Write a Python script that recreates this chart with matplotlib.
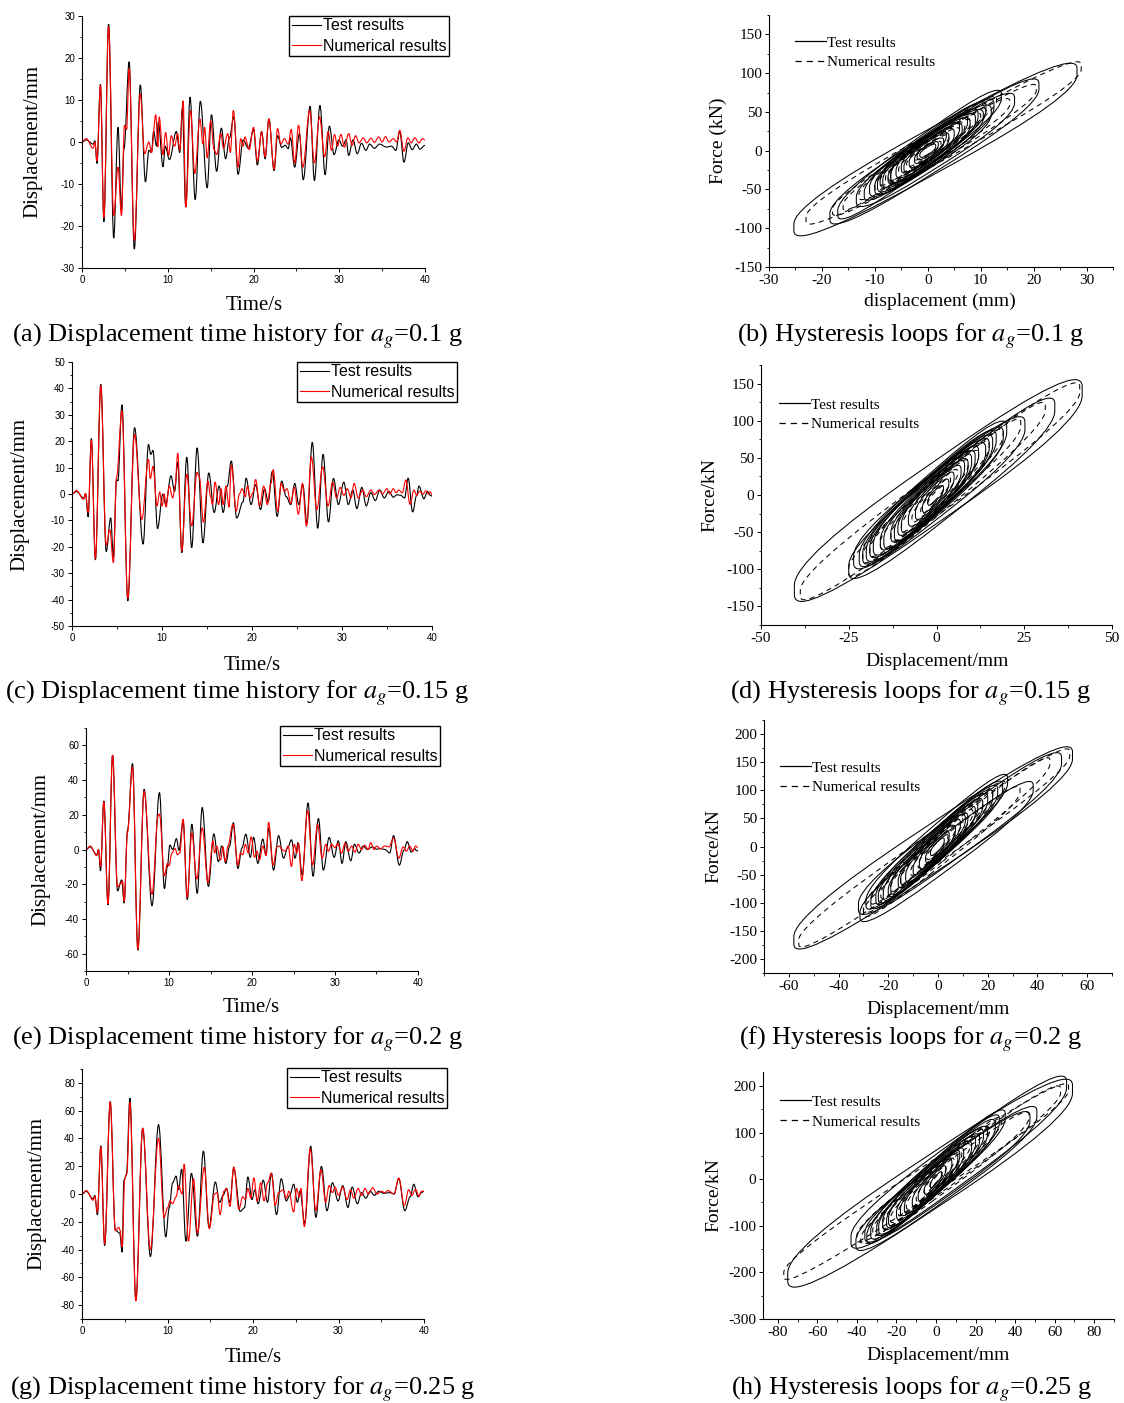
import matplotlib
matplotlib.use('Agg')
import matplotlib.pyplot as plt
from matplotlib.patches import FancyBboxPatch, PathPatch
from matplotlib.path import Path
from matplotlib.transforms import Affine2D
from matplotlib.ticker import MultipleLocator

# ---- displacement time histories: (time s, displacement mm) at the peaks/troughs ----
a_test = [(0, 0), (0.5, 0.5), (1.3, -0.5), (1.5, 0.3), (1.75, -5.1), (2.15, 13.7), (2.55, -19), (3.1, 28.1),
          (3.7, -22.9), (4.2, 3.5), (4.6, -16.3), (4.9, -1.5), (5.5, 19.1), (6.1, -25.5), (6.8, 13.6), (7.4, -9.5),
          (7.8, -2), (8.1, -2.5), (8.35, 2.5), (8.7, -1), (8.9, 4.8), (9.45, -5.9), (9.7, -1), (10.2, -4.2),
          (11.0, 2.5), (11.4, -2.5), (11.7, 8), (12.1, -15.5), (12.6, 10.7), (13.2, -13.7), (13.8, 9.7),
          (14.6, -10.9), (15.1, 6.5), (15.7, -7), (16.25, 3.3), (16.75, -4), (17.2, 1), (17.7, 6), (18.2, -7.7),
          (18.8, 0.5), (19.4, -1.5), (20.0, 3), (20.45, -5.5), (20.95, 2.5), (21.35, -4), (21.8, 5.5),
          (22.4, -6.8), (22.8, 1.5), (23.3, -1.3), (23.7, -0.8), (24.05, -1.6), (24.3, 1), (24.8, -6),
          (25.35, 2), (25.8, -9), (26.6, 8.5), (27.1, -9.2), (27.75, 8.7), (28.35, -7.8), (28.85, 3.8),
          (29.4, -3), (29.95, 0.5), (30.4, -1), (30.8, 0.5), (31.1, -3.2), (31.6, 0.5), (32.1, -2.8),
          (32.6, -0.3), (33.1, -2), (33.55, -0.5), (34.1, -1.5), (34.7, -0.5), (35.5, -1.2), (36.1, -1.0),
          (36.6, -2), (37.05, 2.5), (37.55, -4.8), (38.05, -0.2), (38.5, -1.8), (39.0, -0.5), (39.4, -1.7),
          (40, -0.8)]
a_num = [(0, 0), (0.5, 0.8), (1.3, -1.5), (1.5, 0), (1.75, -4.5), (2.15, 13.5), (2.55, -18), (3.1, 27.5),
         (3.7, -17.5), (4.2, -6), (4.6, -17.5), (4.95, 4), (5.2, 3), (5.5, 17.5), (6.1, -23.5), (6.8, 11.5),
         (7.3, -2.8), (7.8, 0), (8.1, -2.5), (8.6, 6.5), (8.85, -1.2), (9.0, 6), (9.45, -3), (9.75, 2.3),
         (10.1, -3.2), (10.4, 1.5), (10.8, -1), (11.15, 2), (11.4, -2), (11.8, 9.8), (12.1, -15.5),
         (12.65, 7.5), (13.15, -7.5), (13.75, 5.5), (14.1, -0.5), (14.3, 3.5), (14.6, -3.8), (15.0, 5),
         (15.4, -1.8), (15.7, -3), (16.2, 2), (16.5, -1.5), (17.0, 2), (17.3, -2.5), (17.65, 7.5), (18.2, -6),
         (18.5, 0.8), (18.8, -1), (19.0, 1.2), (19.5, -1.8), (20.0, 3.5), (20.45, -4.5), (20.95, 2.4),
         (21.35, -3.5), (21.8, 5.5), (22.4, -6.5), (22.8, 3.2), (23.2, -0.5), (23.6, 0.8), (24.05, -0.5),
         (24.4, 3), (24.8, -5), (25.25, 4), (25.75, -6), (26.55, 7.5), (27.1, -5), (27.7, 6), (28.3, -3.5),
         (28.7, 2.5), (29.1, -2), (29.45, 1.8), (29.8, -1), (30.2, 1.8), (30.6, -1.2), (31.1, 2), (31.5, -0.8),
         (31.9, 1.5), (32.3, -0.2), (32.8, 1), (33.2, -0.2), (33.7, 0.9), (34.1, -0.1), (34.6, 1.2),
         (35.0, 0), (35.4, 1.3), (35.8, 0), (36.3, 0.8), (36.7, 0), (37.05, 2.8), (37.55, -2.2), (38.0, 1),
         (38.4, -0.2), (38.8, 1), (39.3, -0.2), (39.7, 0.8), (40, 0.5)]

c_test = [(0, 0), (0.5, 0.9), (1.3, -1.5), (1.5, 0), (1.8, -8.7), (2.15, 21), (2.6, -25), (3.2, 41.5),
          (3.8, -21.8), (4.3, -9), (4.6, -24), (4.95, 5.4), (5.1, 5), (5.55, 33.8), (6.2, -40.5), (6.95, 25.1),
          (7.9, -19), (8.5, 18.8), (8.75, 15), (9.0, 16.5), (9.5, -13.1), (10.1, 0), (10.4, -4), (11.0, 6.9),
          (11.4, 1), (11.75, 12), (12.2, -22.2), (12.75, 14), (13.3, -20.3), (13.9, 17.5), (14.55, -18.5),
          (15.2, 8), (15.8, -7), (16.35, 3), (16.8, -7), (17.25, 3), (17.7, 12.5), (18.3, -9.1), (19.0, -3),
          (19.35, 6), (19.9, -4), (20.4, 3.5), (20.95, -5.9), (21.4, 2), (21.8, -3), (22.25, 8.5), (22.8, -8.5),
          (23.3, 4.9), (23.8, -1), (24.3, -4), (24.75, 4), (25.2, -4), (25.65, 3.5), (26.1, -11), (26.7, 19.6),
          (27.3, -13), (27.9, 15), (28.5, -10.6), (29.05, 5.9), (29.6, -4), (30.2, 4.5), (30.7, -4), (31.2, 1.5),
          (31.65, -5.5), (32.2, 2.5), (32.7, -4.5), (33.2, 0.5), (33.7, -2.5), (34.2, 1.5), (34.7, -1.5),
          (35.2, 1), (35.7, -1.2), (36.1, -0.3), (36.5, -0.5), (36.95, -1.5), (37.35, 6), (37.85, -6.8),
          (38.3, -0.5), (38.55, 3), (39.1, -1.8), (39.5, 1), (39.8, -0.5), (40, -0.8)]
c_num = [(0, 0), (0.5, 1.3), (1.3, -2), (1.5, 0.3), (1.8, -7), (2.15, 20.5), (2.6, -24.5), (3.2, 41),
         (3.8, -19.4), (4.2, -13.5), (4.6, -26), (4.95, 6.5), (5.55, 31.6), (6.2, -39.5), (6.95, 22.6),
         (7.75, -9.6), (8.5, 13.1), (8.7, 5.8), (9.0, 10.5), (9.45, -4.5), (9.75, 0.8), (10.0, -4.5),
         (10.25, 0), (10.45, -5), (10.8, 3), (11.2, -1.5), (11.45, 3), (11.75, 15.5), (12.2, -21.5),
         (12.75, 7.6), (13.3, -12.1), (13.9, 8.2), (14.15, 6.5), (14.6, -10.7), (15.1, 4.9), (15.4, -1),
         (15.6, -4), (15.9, 4.5), (16.3, -4), (16.55, 2), (16.8, -4), (17.1, 3), (17.45, -5), (17.7, 11),
         (18.25, -6.5), (18.6, 0), (18.9, 2), (19.25, -1), (19.5, 3), (19.8, -1.5), (20.1, 0.5), (20.4, 5.5),
         (20.85, -4.5), (21.3, 3), (21.7, -4), (22.1, 4), (22.35, 9.2), (22.85, -6.5), (23.25, 4), (23.6, 1),
         (23.9, 2), (24.3, -3.5), (24.7, 2.5), (25.15, -7.7), (25.6, 4), (26.05, -12.2), (26.6, 14),
         (27.2, -6), (27.85, 10.3), (28.45, -4.5), (28.95, 4.5), (29.4, -1.5), (29.8, 2.5), (30.2, -0.5),
         (30.6, 2), (31.0, -1.5), (31.35, 4), (31.8, -1.5), (32.3, 1.5), (32.7, -1), (33.2, 1.5), (33.6, -0.2),
         (34.1, 1.5), (34.5, 0), (35.0, 2), (35.3, 0), (35.7, 2), (36.0, 0.5), (36.3, 1.5), (36.7, 0.5),
         (37.1, 5.3), (37.55, -3.9), (38.0, 1.5), (38.3, -0.5), (38.6, 1), (39.0, 0), (39.3, 1.2), (39.6, 0),
         (39.8, 0.8), (40, -0.3)]

e_test = [(0, 0), (0.5, 1.5), (1.3, -3), (1.5, 0), (1.75, -12.3), (2.15, 28), (2.65, -31.9), (3.2, 54.3),
          (3.8, -23.8), (4.3, -17.5), (4.6, -30.9), (5.0, 11.1), (5.6, 49.5), (6.25, -58), (7.0, 34.7),
          (7.95, -32.4), (8.85, 32.8), (9.45, -22.5), (9.8, -10), (10.1, 2.5), (10.45, 0), (10.9, 6.3),
          (11.2, -0.5), (11.7, 16.5), (12.2, -28.8), (12.75, 14.6), (13.4, -25.3), (14.0, 24.2),
          (14.75, -21.3), (15.4, 9), (15.95, -7), (16.35, 2), (16.85, -8), (17.3, 2), (17.75, 15.4),
          (18.3, -10.9), (18.8, 1), (19.25, 8.8), (19.8, -4.5), (20.2, 7), (20.7, -8), (21.3, 6), (21.7, -3),
          (22.0, 12.5), (22.6, -11.9), (23.2, 8), (23.8, -5), (24.3, 1), (24.75, 5.6), (25.2, -5), (25.55, 4),
          (26.05, -14.6), (26.75, 26.9), (27.35, -15.4), (28.0, 17.9), (28.6, -11.9), (29.3, 6.9), (29.9, -4.5),
          (30.4, 5), (30.85, -8), (31.3, 4.5), (31.9, -6.5), (32.35, 3), (32.9, -2), (33.4, 2), (33.9, 0),
          (34.5, 1.5), (35.0, 0.2), (35.5, 0.5), (36.0, 0), (36.6, -2), (37.05, 8), (37.75, -9), (38.3, -0.5),
          (38.7, 4.5), (39.2, -1.5), (39.6, 0.5), (39.8, -0.5), (40, -1)]
e_num = [(0, 0), (0.5, 2), (1.3, -3.5), (1.5, 0), (1.75, -10), (2.15, 27.5), (2.65, -31.5), (3.2, 54.5),
         (3.8, -21.5), (4.2, -19.5), (4.4, -18), (4.6, -30), (5.0, 10), (5.6, 47.6), (6.25, -57.5), (7.0, 33.5),
         (7.95, -25.9), (8.7, 19.4), (8.85, 20.5), (9.45, -15.2), (9.8, -8), (10.0, -9.4), (10.35, -2),
         (10.75, 0.5), (11.0, -3), (11.3, -2), (11.7, 17.5), (12.2, -27.5), (12.75, 9.5), (13.35, -17),
         (14.0, 12.5), (14.7, -19), (15.3, 5), (15.5, -2), (15.75, 2), (16.2, -6), (16.5, 1.5), (16.8, -7),
         (17.1, 2), (17.7, 14.6), (18.3, -9), (18.6, -2), (18.9, -3), (19.2, 3), (19.55, -2), (19.9, 7.3),
         (20.3, -4.5), (20.6, -1), (20.9, -6), (21.3, 2), (21.7, -3.5), (22.0, 15.7), (22.55, -9), (23.0, 1.5),
         (23.3, 2), (23.6, 0), (24.0, -1), (24.35, 2), (24.75, -9.8), (25.1, 3), (25.4, -2), (25.6, 3.5),
         (26.0, -18), (26.7, 22.4), (27.3, -9), (27.9, 14.5), (28.45, -5), (28.9, 3), (29.2, -1), (29.6, 3),
         (30.0, 1), (30.3, 3.5), (30.8, -2), (31.2, 3.5), (31.6, -1), (32.0, 2), (32.4, -1.5), (32.8, 3),
         (33.2, 0), (33.6, 2.5), (34.0, 0), (34.3, 4), (34.7, 0), (35.0, 2), (35.5, 0.5), (36.0, 2),
         (36.5, 1.5), (37.05, 6.5), (37.7, -5), (38.2, 1.5), (38.6, -1), (39.0, 2), (39.4, -1), (39.7, 2),
         (40, 1)]

g_test = [(0, 0), (0.5, 1.9), (1.3, -3.5), (1.5, -1), (1.8, -15), (2.2, 34.7), (2.65, -37.1), (3.3, 66.6),
          (3.9, -26.1), (4.4, -28), (4.7, -41.9), (4.9, 10), (5.2, 13.9), (5.6, 69), (6.3, -75.9), (7.1, 46.9),
          (8.0, -45), (8.95, 50), (9.8, -30.9), (10.2, -10), (10.6, 8), (11.0, 12.9), (11.3, 3), (11.65, 18),
          (12.15, -34), (12.8, 14.9), (13.5, -30.4), (14.2, 30.9), (14.85, -24), (15.6, 8.6), (16.1, -6),
          (16.5, -1), (16.9, 4), (17.3, -6), (17.75, 18.7), (18.5, -12.5), (19.0, -10), (19.4, 12.2),
          (19.9, -4), (20.2, 3), (20.6, -7), (21.2, 10), (21.7, -6), (22.15, 15), (22.75, -14.9), (23.3, 11),
          (23.9, -5), (24.3, -1), (24.75, 7), (25.2, -6), (25.5, 2), (26.05, -21), (26.75, 34.5),
          (27.35, -16.8), (28.0, 19.9), (28.65, -12), (29.3, 8.1), (29.95, -5), (30.5, 6), (31.1, -9.6),
          (31.6, 5), (32.2, -7), (32.7, 1), (33.2, -3), (33.7, 2), (34.2, -1), (34.7, 2), (35.3, 0.5),
          (36.0, 1), (36.5, 0), (37.05, 11), (37.75, -12), (38.4, -2), (38.8, 7), (39.3, -2), (39.7, 1),
          (40, 2)]
g_num = [(0, 0), (0.5, 2.5), (1.3, -4.5), (1.5, -1.5), (1.8, -13), (2.2, 34), (2.65, -36), (3.3, 66),
         (3.9, -26.5), (4.3, -24), (4.45, -26), (4.7, -38), (5.0, 11), (5.25, 15), (5.6, 65.9), (6.3, -77),
         (7.1, 47.5), (8.0, -40), (8.95, 40.2), (9.6, -17), (10.0, -10), (10.3, -5), (10.6, -7), (11.0, -2),
         (11.3, 6), (11.7, 0), (11.95, 21.6), (12.45, -34), (13.05, 11), (13.5, -28), (14.3, 19.2),
         (14.9, -25), (15.5, 0), (15.8, 1), (16.15, -14.9), (16.6, 2), (16.9, 4), (17.3, -9), (17.75, 19.5),
         (18.35, -11), (18.8, -2), (19.1, -4), (19.4, 4), (19.75, -3), (20.1, 11.7), (20.5, -5), (20.9, 8),
         (21.3, -5), (21.7, 8), (22.15, 15), (22.6, -8), (23.0, 1), (23.5, 3), (23.9, -3), (24.2, 2),
         (24.75, -13), (25.1, 4), (25.4, -2), (25.6, 4), (26.0, -23.5), (26.7, 32.5), (27.35, -12),
         (27.95, 17.5), (28.5, -6), (28.9, 6), (29.3, 1), (29.6, 5), (30.0, -1), (30.5, 5), (31.0, -4),
         (31.4, 3), (31.8, -3), (32.3, 4), (32.7, -1), (33.1, 4), (33.5, 0), (34.0, 4.5), (34.5, 0), (35.0, 2),
         (35.4, 1), (35.8, 2.5), (36.5, 0), (37.05, 11.5), (37.7, -8.5), (38.2, 3), (38.6, -1), (39.0, 3.5),
         (39.4, -1.5), (39.7, 2), (40, 2)]

# ---- hysteresis loops: (disp at + tip, force at + tip, disp at - tip, force at - tip, loop width in force) ----
b_test = [(28.2, 102, -25.3, -99, 62), (21.0, 83, -18.5, -85, 54), (16.4, 65, -13.5, -63, 48),
          (13.9, 70, -17.0, -80, 46), (12.5, 58, -10, -48, 44), (12.0, 50, -11.0, -50, 44), (11, 55, -12, -56, 42),
          (10.5, 45, -9.5, -45, 40), (9.5, 46, -7, -34, 38), (9.0, 40, -8.5, -40, 38), (8.0, 35, -7.0, -33, 36),
          (7.5, 38, -9, -40, 36), (6.5, 28, -6.0, -28, 32), (6, 30, -7.5, -36, 32), (5.0, 22, -5.0, -22, 28),
          (4.0, 17, -3.5, -16, 24), (3.5, 20, -4.5, -22, 24), (3.0, 12, -2.5, -12, 18), (2.0, 8, -2.0, -8, 14),
          (1.5, 6, -1.5, -6, 10)]
b_num = [(29.0, 108, -23.0, -88, 44), (20.5, 80, -18.0, -78, 36), (15.5, 62, -13.0, -58, 32),
         (13.0, 66, -16.0, -72, 30), (11, 50, -10, -46, 28), (10.0, 44, -9.0, -40, 26), (8.0, 36, -7.5, -34, 24),
         (7, 32, -8, -36, 22), (6.0, 26, -5.5, -25, 19), (4.0, 18, -4.0, -18, 15), (2.5, 10, -2.5, -10, 10)]

d_test = [(41.5, 140, -40.5, -128, 86), (33.7, 118, -25.0, -100, 70), (25.2, 93, -23.6, -87, 66),
          (20.0, 88, -22.0, -85, 62), (19.0, 80, -20.0, -78, 60), (17, 76, -21, -82, 58), (16.0, 70, -18.0, -70, 56),
          (15, 66, -19, -74, 54), (14.0, 60, -15.0, -62, 52), (12, 56, -16, -64, 50), (11.0, 50, -12.0, -52, 48),
          (10, 46, -13, -54, 46), (9.0, 40, -10.0, -42, 42), (8, 38, -11, -46, 40), (7.0, 32, -8.0, -34, 36),
          (5.0, 24, -6.0, -26, 30), (3.5, 16, -4.0, -18, 23), (2.0, 9, -2.5, -10, 15)]
d_num = [(40.8, 142, -38.8, -132, 60), (31.0, 117, -25.0, -102, 50), (24.0, 95, -21.0, -84, 45),
         (19.0, 82, -19.0, -76, 42), (15.0, 66, -16.0, -66, 38), (12.0, 54, -13.0, -56, 35),
         (9.0, 42, -10.0, -44, 30), (6.0, 30, -7.0, -32, 24), (4.0, 20, -4.5, -22, 18), (2.0, 10, -2.5, -12, 11)]

f_test = [(54.1, 162, -58.0, -167, 92), (49.7, 153, -32.0, -107, 80), (38.3, 104, -31.4, -122, 68),
          (28.0, 117, -29.0, -100, 66), (26.0, 105, -25.0, -92, 64), (24, 98, -27, -100, 62),
          (22.0, 90, -22.0, -85, 60), (20, 84, -24, -90, 58), (18.0, 75, -19.0, -75, 55), (16, 70, -20, -80, 52),
          (15.0, 62, -16.0, -64, 50), (12.0, 50, -13.0, -54, 47), (11, 48, -15, -60, 45), (9.0, 40, -10.0, -42, 40),
          (7.0, 30, -7.5, -32, 35), (4.5, 20, -5.0, -22, 27), (2.5, 11, -3.0, -12, 17)]
f_num = [(53.0, 165, -56.0, -170, 62), (45.0, 150, -30.0, -110, 54), (33.0, 100, -30.0, -118, 48),
         (27.0, 110, -27.0, -96, 44), (22.0, 92, -23.0, -86, 41), (18.0, 76, -19.0, -74, 38),
         (14.0, 60, -15.0, -60, 35), (10.0, 46, -11.0, -46, 30), (7.0, 32, -8.0, -34, 24), (4.0, 18, -4.5, -20, 18)]

h_test = [(69.0, 193, -75.0, -210, 124), (66.0, 203, -43.0, -130, 104), (51.0, 140, -40.5, -137, 90),
          (47.5, 130, -36.0, -120, 84), (35.0, 135, -33.0, -115, 78), (32, 125, -35, -125, 76),
          (30.0, 115, -30.0, -108, 74), (26.0, 100, -27.0, -95, 72), (24, 95, -29, -105, 70),
          (22.0, 85, -24.0, -88, 66), (20, 80, -25, -92, 64), (18.0, 70, -20.0, -75, 60), (14.0, 56, -16.0, -62, 55),
          (12, 52, -18, -68, 52), (11.0, 45, -12.0, -50, 46), (8.0, 34, -9.0, -38, 40), (5.0, 22, -6.0, -26, 30),
          (3.0, 12, -3.0, -14, 18)]
h_num = [(67.0, 195, -77.0, -205, 72), (63.0, 190, -40.0, -125, 68), (47.0, 135, -38.0, -130, 60),
         (33.0, 125, -32.0, -112, 54), (27.0, 105, -27.0, -98, 50), (22.0, 88, -23.0, -86, 45),
         (17.0, 70, -19.0, -72, 40), (13.0, 54, -15.0, -58, 35), (9.0, 40, -10.0, -42, 30),
         (5.0, 24, -6.0, -26, 21), (3.0, 12, -3.0, -14, 13)]

captions = ["(a) Displacement time history for $a_g$=0.1 g", "(b) Hysteresis loops for $a_g$=0.1 g",
            "(c) Displacement time history for $a_g$=0.15 g", "(d) Hysteresis loops for $a_g$=0.15 g",
            "(e) Displacement time history for $a_g$=0.2 g", "(f) Hysteresis loops for $a_g$=0.2 g",
            "(g) Displacement time history for $a_g$=0.25 g", "(h) Hysteresis loops for $a_g$=0.25 g"]

plt.rcParams['font.family'] = 'serif'
plt.rcParams['font.serif'] = ['Liberation Serif']
plt.rcParams['mathtext.fontset'] = 'stix'
plt.rcParams['axes.unicode_minus'] = False

W, H = 1124, 1403
fig = plt.figure(figsize=(W / 100, H / 100), dpi=100)


def box(l, t, r, b):
    return [l / W, 1 - b / H, (r - l) / W, (b - t) / H]


def fx(x):
    return x / W


def fy(y):
    return 1 - y / H


def style(ax):
    for s in ('top', 'right'):
        ax.spines[s].set_visible(False)
    for s in ('left', 'bottom'):
        ax.spines[s].set_linewidth(0.8)
    ax.tick_params(which='major', direction='out', length=3, width=0.7, pad=2)
    ax.tick_params(which='minor', direction='out', length=1.8, width=0.6)


def curve(points):
    # smooth line through the read peaks, flat tangent at each peak (bezier segments)
    verts = [points[0]]
    codes = [Path.MOVETO]
    for (t0, v0), (t1, v1) in zip(points[:-1], points[1:]):
        dt = t1 - t0
        verts += [(t0 + 0.36 * dt, v0), (t1 - 0.36 * dt, v1), (t1, v1)]
        codes += [Path.CURVE4] * 3
    return Path(verts, codes)


def history(rect, test, num, ylim, ystep, leg_corner, ylab_x, xlab_xy):
    ax = fig.add_axes(box(*rect))
    ax.add_patch(PathPatch(curve(test), fill=False, edgecolor='black', lw=0.8))
    ax.add_patch(PathPatch(curve(num), fill=False, edgecolor='red', lw=0.8))
    ax.plot([], [], color='black', lw=0.8, label='Test results')
    ax.plot([], [], color='red', lw=0.8, label='Numerical results')
    ax.set_xlim(0, 40)
    ax.set_ylim(-ylim, ylim)
    ax.xaxis.set_major_locator(MultipleLocator(10))
    ax.xaxis.set_minor_locator(MultipleLocator(5))
    ax.yaxis.set_major_locator(MultipleLocator(ystep))
    ax.yaxis.set_minor_locator(MultipleLocator(ystep / 2))
    style(ax)
    ax.tick_params(labelfontfamily='Liberation Sans', labelsize=7)
    leg = ax.legend(loc='upper right', bbox_to_anchor=(fx(leg_corner[0]), fy(leg_corner[1])),
                    bbox_transform=fig.transFigure, prop={'family': 'Liberation Sans', 'size': 11.5},
                    fancybox=False, edgecolor='black', framealpha=1, borderaxespad=0, borderpad=0.15,
                    handlelength=1.8, handletextpad=0.15, labelspacing=0.35)
    leg.get_frame().set_linewidth(1.0)
    mid = (rect[1] + rect[3]) / 2
    fig.text(fx(ylab_x), fy(mid), 'Displacement/mm', rotation=90, ha='center', va='center', fontsize=15)
    fig.text(fx(xlab_xy[0]), fy(xlab_xy[1]), 'Time/s', ha='center', va='center', fontsize=15)


def hysteresis(rect, test, num, xlim, xstep, xminor, ylim, ystep, yminor, leg_xy, ylabel, xlabel, ylab_x, xlab_xy):
    ax = fig.add_axes(box(*rect))
    for loops, ls in ((test, '-'), (num, (0, (5, 4)))):
        for dp, fp, dn, fn, gap in loops:
            m = Affine2D.from_values((dp - dn) / 2, (fp - fn) / 2, 0, gap / 2, (dp + dn) / 2, (fp + fn) / 2)
            ax.add_patch(FancyBboxPatch((-1, -1), 2, 2, boxstyle='round,pad=0,rounding_size=0.85',
                                        transform=m + ax.transData, fill=False,
                                        edgecolor='black', lw=0.75, linestyle=ls))
    ax.plot([], [], color='black', lw=0.9, label='Test results')
    ax.plot([], [], color='black', lw=0.9, ls=(0, (5, 4)), label='Numerical results')
    ax.set_xlim(*xlim)
    ax.set_ylim(*ylim)
    ax.xaxis.set_major_locator(MultipleLocator(xstep))
    ax.xaxis.set_minor_locator(MultipleLocator(xminor))
    ax.yaxis.set_major_locator(MultipleLocator(ystep))
    ax.yaxis.set_minor_locator(MultipleLocator(yminor))
    style(ax)
    ax.tick_params(labelsize=11)
    ax.legend(loc='upper left', bbox_to_anchor=(fx(leg_xy[0]), fy(leg_xy[1])), bbox_transform=fig.transFigure,
              frameon=False, fontsize=11, borderaxespad=0, borderpad=0, handlelength=2.0,
              handletextpad=0.1, labelspacing=0.4)
    mid = (rect[1] + rect[3]) / 2
    fig.text(fx(ylab_x), fy(mid), ylabel, rotation=90, ha='center', va='center', fontsize=14)
    fig.text(fx(xlab_xy[0]), fy(xlab_xy[1]), xlabel, ha='center', va='center', fontsize=14)


history((82, 16, 425, 268), a_test, a_num, 30, 10, (449, 16), 33, (254, 306))
history((72, 362, 432, 626), c_test, c_num, 50, 10, (457, 362), 20, (252, 665))
history((86, 728, 418, 971), e_test, e_num, 70, 20, (440, 726), 41, (251, 1007))
history((82, 1069, 424, 1319), g_test, g_num, 90, 20, (447, 1068), 37, (253, 1358))

hysteresis((769, 15, 1113, 267), b_test, b_num, (-30, 35), 10, 5, (-150, 175), 50, 25,
           (795, 36), 'Force (kN)', 'displacement (mm)', 718, (940, 301))
hysteresis((761, 365, 1112, 625), d_test, d_num, (-50, 50), 25, 12.5, (-175, 175), 50, 25,
           (779, 398), 'Force/kN', 'Displacement/mm', 710, (937, 661))
hysteresis((764, 720, 1112, 973), f_test, f_num, (-70, 70), 20, 10, (-225, 225), 50, 25,
           (780, 761), 'Force/kN', 'Displacement/mm', 714, (938, 1009))
hysteresis((763, 1072, 1114, 1319), h_test, h_num, (-87.5, 90), 20, 10, (-300, 230), 100, 50,
           (780, 1095), 'Force/kN', 'Displacement/mm', 714, (938, 1356))

cap_pos = [(237, 336), (911, 336), (237, 693), (910, 693), (237, 1039), (911, 1039), (243, 1389), (911, 1389)]
for txt, (x, y) in zip(captions, cap_pos):
    fig.text(fx(x), fy(y), txt, ha='center', va='center', fontsize=19)

fig.savefig('out.png', dpi=100)
